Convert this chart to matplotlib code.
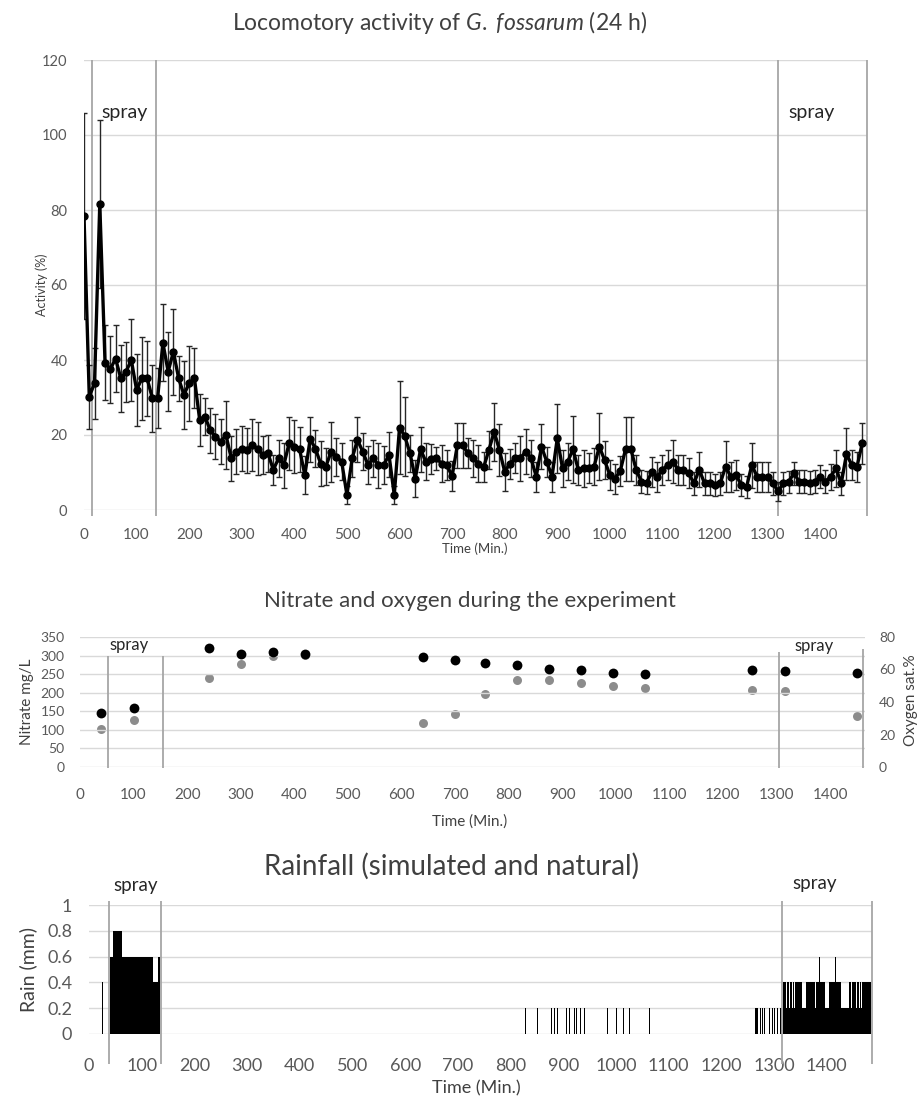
import matplotlib
matplotlib.use('Agg')
import matplotlib.pyplot as plt

plt.rcParams['font.family'] = ['Lato', 'DejaVu Sans']
plt.rcParams['mathtext.fontset'] = 'custom'
plt.rcParams['mathtext.rm'] = 'Lato'
plt.rcParams['mathtext.it'] = 'Lato:italic'

# ---------------- Locomotory activity (top) ----------------
act_time = [0, 10, 20, 30, 40, 50, 60, 70, 80, 90, 100, 110, 120, 130, 140, 150, 160, 170, 180, 190,
            200, 210, 220, 230, 240, 250, 260, 270, 280, 290, 300, 310, 320, 330, 340, 350, 360, 370, 380, 390,
            400, 410, 420, 430, 440, 450, 460, 470, 480, 490, 500, 510, 520, 530, 540, 550, 560, 570, 580, 590,
            600, 610, 620, 630, 640, 650, 660, 670, 680, 690, 700, 710, 720, 730, 740, 750, 760, 770, 780, 790,
            800, 810, 820, 830, 840, 850, 860, 870, 880, 890, 900, 910, 920, 930, 940, 950, 960, 970, 980, 990,
            1000, 1010, 1020, 1030, 1040, 1050, 1060, 1070, 1080, 1090, 1100, 1110, 1120, 1130, 1140, 1150, 1160,
            1170, 1180, 1190, 1200, 1210, 1220, 1230, 1240, 1250, 1260, 1270, 1280, 1290, 1300, 1310, 1320, 1330,
            1340, 1350, 1360, 1370, 1380, 1390, 1400, 1410, 1420, 1430, 1440, 1450, 1460, 1470, 1480]
act_mean = [78.5, 30.2, 33.8, 81.6, 39.3, 37.5, 40.4, 35.1, 36.9, 40.0, 32.0, 35.1, 35.1, 29.8, 29.8, 44.6,
            36.9, 42.2, 35.1, 30.7, 33.8, 35.1, 24.0, 24.9, 21.3, 19.6, 18.2, 20.0, 13.8, 15.5, 16.4, 16.0,
            17.3, 16.4, 14.7, 15.1, 10.7, 13.8, 12.0, 17.8, 16.9, 16.2, 9.3, 18.9, 16.4, 12.4, 11.6, 15.6,
            14.2, 12.9, 4.0, 13.8, 18.7, 15.6, 12.0, 13.8, 12.0, 12.0, 14.7, 4.0, 22.0, 19.7, 15.1, 8.4,
            16.2, 12.9, 13.5, 13.8, 12.4, 12.0, 9.0, 17.3, 17.3, 15.1, 13.8, 12.4, 11.4, 16.0, 20.9, 16.0,
            10.2, 12.4, 13.8, 13.8, 15.6, 13.8, 8.9, 16.9, 12.9, 8.9, 19.1, 11.1, 12.9, 16.2, 10.7, 11.1,
            11.1, 11.6, 16.9, 13.3, 9.3, 8.4, 10.5, 16.3, 16.3, 10.7, 7.6, 7.3, 10.2, 8.9, 10.7, 12.0, 12.9,
            10.7, 10.7, 9.8, 7.1, 10.8, 7.1, 7.1, 6.7, 7.1, 11.6, 8.9, 9.3, 6.7, 6.2, 12.0, 8.9, 8.7, 8.9,
            7.1, 5.0, 7.1, 7.5, 9.8, 7.6, 7.6, 7.3, 7.6, 8.9, 7.6, 8.9, 11.1, 7.1, 14.9, 12.0, 11.6, 17.8]
act_err = [27.5, 8.5, 9.5, 22.5, 10, 9, 9, 9, 8, 11, 9.5, 11, 10, 9, 8, 10.3,
           10.5, 11.5, 6, 9, 10, 8, 7, 5, 6, 6, 6, 9, 6, 6, 6, 6,
           7, 7, 5, 5, 4, 5, 6, 7, 7, 6, 5, 6, 5, 6, 5, 8,
           5, 5, 2.5, 5, 6, 5, 5, 5, 6, 5, 6, 2.5, 12.5, 10.5, 5, 5,
           6, 5, 4, 3, 5, 4, 4, 6, 6, 4, 5, 5, 4, 5, 7.7, 7,
           5, 4, 4, 6, 6, 5, 4, 6, 4, 4, 9.3, 5, 5, 9, 4, 5,
           4, 5, 9, 5, 4, 4, 4, 8.5, 8.5, 4, 3, 3, 4, 4, 4, 4, 5.8,
           4, 4, 4, 3, 4.7, 3, 3, 3, 3, 6.8, 4, 4, 3, 3, 6, 4, 4, 4,
           3, 2.5, 3, 3, 3, 3, 3, 3, 3, 3, 3, 3.5, 5, 3, 7, 4, 4, 5.5]
act_spray_lines = [16, 136, 1319, 1489]

# ---------------- Nitrate & oxygen (middle) ----------------
chem_time = [40, 100, 240, 300, 360, 420, 640, 700, 755, 815, 875, 935, 995, 1055, 1255, 1315, 1450]
nitrate = [146, 159, 320, 303, 309, 305, 295, 289, 280, 274, 265, 260, 253, 250, 262, 259, 252]
oxygen = [23.2, 29.1, 54.6, 63.2, 68.5, 68.7, 27.1, 32.4, 45.1, 53.8, 53.8, 51.7, 49.7, 48.6, 47.6, 46.8, 31.2]
chem_spray_lines = [53, 154, 1305, 1461]
chem_spray_tops = [300, 300, 310, 318]

# ---------------- Rainfall (bottom) ----------------
rain_start = [24, 40, 46, 47, 48, 49, 50, 51, 52, 53, 54, 62, 122, 131,
              827, 851, 877, 882, 889, 897, 905, 911, 916, 920, 925, 932, 939,
              984, 992, 1000, 1013, 1025, 1063,
              1254, 1256, 1258, 1260, 1262, 1264, 1266, 1268, 1271, 1274, 1278, 1281,
              1284, 1288, 1291, 1294, 1297, 1300, 1303, 1306, 1309, 1312, 1314,
              1317, 1320, 1321, 1323, 1324, 1326, 1327, 1329, 1330, 1332, 1333, 1335, 1336,
              1338, 1339, 1341, 1342, 1345, 1346, 1349, 1350, 1353, 1360, 1370, 1371, 1378,
              1379, 1385, 1387, 1396, 1404, 1415, 1417, 1428, 1442, 1447, 1448, 1451, 1452,
              1456, 1457, 1461, 1463, 1466, 1467]
rain_end = [26, 46, 47, 48, 49, 50, 51, 52, 53, 54, 62, 122, 131, 134,
            828.5, 852.5, 878.5, 883.5, 890.5, 898.5, 906.5, 912.5, 917.5, 921.5, 926.5, 933.5, 940.5,
            985.5, 993.5, 1001.5, 1014.5, 1026.5, 1064.5,
            1255, 1257, 1259, 1261, 1263, 1265, 1267, 1269, 1272, 1275, 1279, 1282,
            1285, 1289, 1292, 1295, 1298, 1301, 1304, 1307, 1310, 1313, 1315,
            1320, 1321, 1323, 1324, 1326, 1327, 1329, 1330, 1332, 1333, 1335, 1336, 1338,
            1339, 1341, 1342, 1345, 1346, 1349, 1350, 1353, 1360, 1370, 1371, 1378, 1379,
            1385, 1387, 1396, 1404, 1415, 1417, 1428, 1442, 1447, 1448, 1451, 1452, 1456,
            1457, 1461, 1463, 1466, 1467, 1485]
rain_mm = [0.4, 0.6, 0.8, 0.6, 0.8, 0.6, 0.8, 0.6, 0.8, 0.6, 0.8, 0.6, 0.4, 0.6,
           0.2, 0.2, 0.2, 0.2, 0.2, 0.2, 0.2, 0.2, 0.2, 0.2, 0.2, 0.2, 0.2,
           0.2, 0.2, 0.2, 0.2, 0.2, 0.2,
           0.2, 0.2, 0.2, 0.2, 0.2, 0.2, 0.2, 0.2, 0.2, 0.2, 0.2, 0.2,
           0.2, 0.2, 0.2, 0.2, 0.2, 0.2, 0.2, 0.2, 0.2, 0.2, 0.2,
           0.4, 0.2, 0.4, 0.2, 0.4, 0.2, 0.4, 0.2, 0.4, 0.2, 0.4, 0.2, 0.4,
           0.2, 0.4, 0.2, 0.4, 0.2, 0.4, 0.2, 0.4, 0.2, 0.4, 0.2, 0.4, 0.2,
           0.4, 0.6, 0.4, 0.2, 0.4, 0.6, 0.4, 0.2, 0.4, 0.2, 0.4, 0.2, 0.4,
           0.2, 0.4, 0.2, 0.4, 0.2, 0.4]
rain_spray_lines = [38.5, 136, 1316, 1486]

# ---------------- styling ----------------
TITLE = '#404040'
TICK = '#595959'
GRID = '#d9d9d9'
SPRAY = '#a6a6a6'
W, H = 919, 1108


def fx(px):
    return px / W


def fy(py):
    return 1 - py / H


def clean(ax):
    for s in ax.spines.values():
        s.set_visible(False)
    ax.grid(axis='y', color=GRID, lw=1.0)
    ax.set_axisbelow(True)


fig = plt.figure(figsize=(W / 100, H / 100), dpi=100)

# ---- top ----
ax1 = fig.add_axes([fx(84), fy(510), fx(867) - fx(84), fy(60) - fy(510)])
clean(ax1)
ax1.set_xlim(0, 1489)
ax1.set_ylim(0, 120)
ax1.set_xticks(range(0, 1401, 100))
ax1.set_yticks(range(0, 121, 20))
ax1.tick_params(axis='x', length=0, labelsize=11, colors=TICK, pad=13)
ax1.tick_params(axis='y', length=0, labelsize=10.5, colors=TICK, pad=12)
ax1.vlines(act_spray_lines, -1.5, 120, colors=SPRAY, lw=1.3, clip_on=False, zorder=1)
ax1.errorbar(act_time, act_mean, yerr=act_err, fmt='-o', color='black', lw=2.4, ms=5,
             ecolor='#262626', elinewidth=1.0, capsize=2.5, capthick=1.0, zorder=3)
ax1.text(77, 106, 'spray', ha='center', va='center', fontsize=14, color='#262626')
ax1.text(1384, 106, 'spray', ha='center', va='center', fontsize=14, color='#262626')
fig.text(fx(440), fy(22), r'Locomotory activity of $\mathit{G.}$ $\mathit{fossarum}$ (24 h)',
         ha='center', va='center', fontsize=16.5, color=TITLE)
fig.text(fx(475), fy(549), 'Time (Min.)', ha='center', va='center', fontsize=9.5, color=TITLE)
fig.text(fx(42), fy(285), 'Activity (%)', ha='center', va='center', rotation=90,
         fontsize=9, color=TITLE)

# ---- middle ----
ax2 = fig.add_axes([fx(80), fy(767), fx(865) - fx(80), fy(637) - fy(767)])
clean(ax2)
ax2.set_xlim(0, 1465)
ax2.set_ylim(0, 350)
ax2.set_xticks(range(0, 1401, 100))
ax2.set_yticks(range(0, 351, 50))
ax2.tick_params(axis='x', length=0, labelsize=11, colors=TICK, pad=15)
ax2.tick_params(axis='y', length=0, labelsize=10, colors=TICK, pad=11)
ax2.vlines(chem_spray_lines, -3, chem_spray_tops, colors=SPRAY, lw=1.3, clip_on=False, zorder=1)
ax2b = ax2.twinx()
for s in ax2b.spines.values():
    s.set_visible(False)
ax2b.set_ylim(0, 80)
ax2b.set_yticks(range(0, 81, 20))
ax2b.tick_params(axis='y', length=0, labelsize=10, colors=TICK, pad=10)
ax2b.scatter(chem_time, oxygen, s=42, color='#8c8c8c', zorder=3, linewidths=0)
ax2.scatter(chem_time, nitrate, s=50, color='black', zorder=4, linewidths=0)
ax2.set_zorder(ax2b.get_zorder() + 1)
ax2.patch.set_visible(False)
ax2.text(91, 328, 'spray', ha='center', va='center', fontsize=12, color='#262626')
ax2.text(1370, 326, 'spray', ha='center', va='center', fontsize=12, color='#262626')
fig.text(fx(470), fy(601), 'Nitrate and oxygen during the experiment',
         ha='center', va='center', fontsize=16, color=TITLE)
fig.text(fx(470), fy(822), 'Time (Min.)', ha='center', va='center', fontsize=11, color=TITLE)
fig.text(fx(27), fy(702), 'Nitrate mg/L', ha='center', va='center', rotation=90,
         fontsize=11, color=TITLE)
fig.text(fx(911), fy(700), 'Oxygen sat.%', ha='center', va='center', rotation=90,
         fontsize=11, color=TITLE)

# ---- bottom ----
ax3 = fig.add_axes([fx(89), fy(1034), fx(872) - fx(89), fy(905) - fy(1034)])
clean(ax3)
ax3.set_xlim(0, 1486)
ax3.set_ylim(0, 1)
ax3.set_xticks(range(0, 1401, 100))
ax3.set_yticks([0, 0.2, 0.4, 0.6, 0.8, 1])
ax3.set_yticklabels(['0', '0.2', '0.4', '0.6', '0.8', '1'])
ax3.tick_params(axis='x', length=0, labelsize=13, colors=TICK, pad=17)
ax3.tick_params(axis='y', length=0, labelsize=13, colors=TICK, pad=12)
widths = [e - s for s, e in zip(rain_start, rain_end)]
ax3.bar(rain_start, rain_mm, width=widths, align='edge', color='black', linewidth=0, zorder=3)
ax3.vlines(rain_spray_lines, -0.23, 1.03, colors=SPRAY, lw=1.3, clip_on=False, zorder=4)
ax3.text(89, 1.15, 'spray', ha='center', va='center', fontsize=13.5, color='#262626')
ax3.text(1378, 1.17, 'spray', ha='center', va='center', fontsize=13.5, color='#262626')
fig.text(fx(452), fy(866), 'Rainfall (simulated and natural)', ha='center', va='center',
         fontsize=20, color=TITLE)
fig.text(fx(476), fy(1088), 'Time (Min.)', ha='center', va='center', fontsize=13, color=TITLE)
fig.text(fx(28), fy(970), 'Rain (mm)', ha='center', va='center', rotation=90,
         fontsize=14, color=TITLE)

fig.savefig('out.png', dpi=100, facecolor='white')
